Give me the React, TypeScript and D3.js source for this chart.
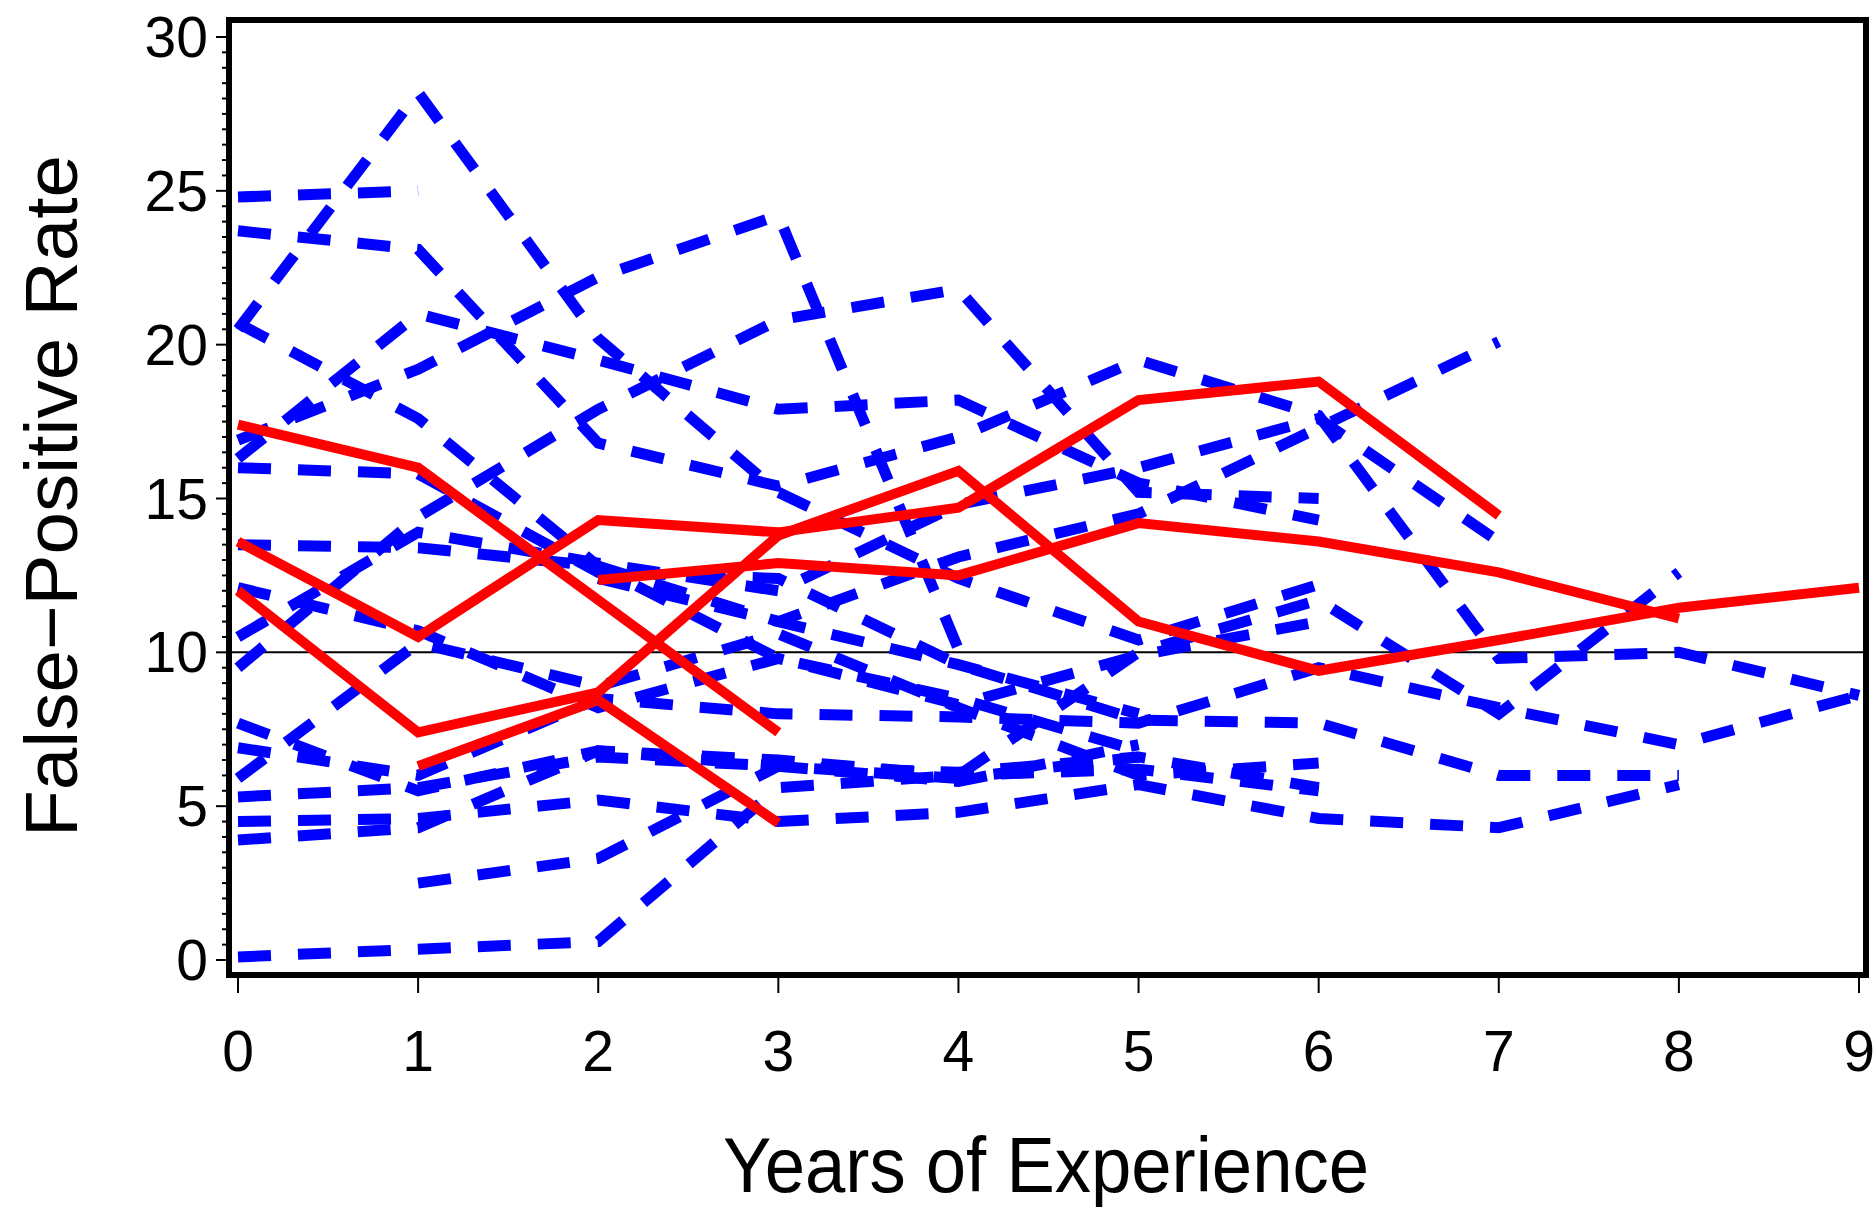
import React from 'react';
import * as d3 from 'd3';

const WIDTH = 1875;
const HEIGHT = 1207;

const years = [0, 1, 2, 3, 4, 5, 6, 7, 8, 9];
const yTickValues = [0, 5, 10, 15, 20, 25, 30];
const referenceRate = 10;

// Each series is one reader's false-positive rate by year of experience.
// The matching *Start array gives the first year each reader was observed.
const blue01 = [24.8, 25.0];
const blue02 = [23.7, 23.1, 16.8, 15.4, 17.0, 19.5, 17.7, 9.8, 10.0, 8.6];
const blue03 = [20.5, 28.2, 20.2, 15.2, 12.4, 10.4, 12.2];
const blue04 = [20.7, 17.6, 12.8, 9.8, 8.5, 6.8];
const blue05 = [16.9, 19.2, 22.2, 24.2, 10.1];
const blue06 = [16.3, 21.0, 19.5, 17.9, 18.2, 15.5, 14.3];
const blue07 = [16.0, 15.8, 12.6, 12.4, 9.6, 7.8, 7.7, 6.0, 6.0];
const blue08 = [13.5, 13.4, 12.8, 11.0, 13.1, 14.5, 17.3, 20.1];
const blue09 = [10.5, 13.9, 12.9, 12.0, 14.8, 16.0, 17.6, 13.6];
const blue10 = [9.5, 14.4, 17.9, 20.8, 21.8, 15.2, 15.0];
const blue11 = [12.1, 10.7, 8.2, 9.8, 8.3, 9.9, 11.0];
const blue12 = [7.7, 5.5, 6.8, 6.3, 6.1, 6.6];
const blue13 = [6.9, 6.0, 8.5, 8.0, 7.9, 7.7, 9.5, 8.2, 7.0, 8.6];
const blue14 = [5.9, 10.3, 8.9, 10.6, 8.2, 6.0, 6.4];
const blue15 = [5.3, 5.6, 6.6, 6.3, 5.8, 7.0];
const blue16 = [4.5, 4.6, 5.2, 4.5, 4.8, 5.7, 4.6, 4.3, 5.7];
const blue17 = [3.9, 4.3, 6.8, 6.5, 6.0, 6.2, 5.5];
const blue18 = [0.1, 0.35, 0.6, 5.6, 6.0, 10.0, 11.7, 8.0, 12.6];
const blue19 = [2.5, 3.3, 6.3, 5.9, 6.6, 5.6];
const blue20 = [12.4, 11.0, 9.6, 8.0];
const blueSeries = [
  blue01, blue02, blue03, blue04, blue05, blue06, blue07, blue08, blue09, blue10,
  blue11, blue12, blue13, blue14, blue15, blue16, blue17, blue18, blue19, blue20,
];
const blueStart = [0, 0, 0, 0, 0, 0, 0, 0, 0, 0, 0, 0, 0, 0, 0, 0, 0, 0, 1, 2];

const red01 = [17.4, 16.0, 11.7, 7.4];
const red02 = [13.6, 10.5, 14.3, 13.9, 14.7, 18.2, 18.8, 14.45];
const red03 = [12.0, 7.4, 8.7, 13.8, 15.9, 11.0, 9.4, 10.4, 11.45, 12.1];
const red04 = [6.3, 8.45, 4.45];
const red05 = [12.35, 12.9, 12.5, 14.2, 13.6, 12.6, 11.1];
const redSeries = [red01, red02, red03, red04, red05];
const redStart = [0, 0, 0, 1, 2];

const FONT = '"Liberation Sans", Arial, Helvetica, sans-serif';

export default function App() {
  const x = d3.scaleLinear().domain([0, 9]).range([238, 1859]);
  const y = d3.scaleLinear().domain([0, 30]).range([960, 37]);

  const frame = { left: 229, right: 1866, top: 20, bottom: 975 };

  const toPoints = (values: number[], start: number): [number, number][] =>
    values.map((v, i) => [start + i, v]);

  const line = d3
    .line<[number, number]>()
    .x((d) => x(d[0]))
    .y((d) => y(d[1]));

  const minorTicks = d3.range(0, 30.01, 0.5).filter((v) => v % 5 !== 0);

  return (
    <svg
      width={WIDTH}
      height={HEIGHT}
      viewBox={`0 0 ${WIDTH} ${HEIGHT}`}
      style={{ position: 'absolute', left: 0, top: 0, display: 'block', background: '#fff' }}
    >
      <rect x={0} y={0} width={WIDTH} height={HEIGHT} fill="#fff" />

      {/* reference line */}
      <line
        x1={frame.left}
        x2={frame.right}
        y1={y(referenceRate)}
        y2={y(referenceRate)}
        stroke="#000"
        strokeWidth={2}
      />

      {/* blue readers, dashed */}
      <g fill="none" stroke="#0000ff" strokeWidth={11} strokeDasharray="33 27" strokeLinejoin="miter">
        {blueSeries.map((s, i) => (
          <path key={`b${i}`} d={line(toPoints(s, blueStart[i])) || ''} />
        ))}
      </g>

      {/* red readers, solid */}
      <g fill="none" stroke="#ff0000" strokeWidth={10} strokeLinejoin="miter" strokeLinecap="butt">
        {redSeries.map((s, i) => (
          <path key={`r${i}`} d={line(toPoints(s, redStart[i])) || ''} />
        ))}
      </g>

      {/* frame */}
      <rect
        x={frame.left}
        y={frame.top}
        width={frame.right - frame.left}
        height={frame.bottom - frame.top}
        fill="none"
        stroke="#000"
        strokeWidth={6}
      />

      {/* y axis ticks */}
      <g stroke="#000" strokeWidth={2}>
        {yTickValues.map((v) => (
          <line key={`yt${v}`} x1={216} x2={frame.left} y1={y(v)} y2={y(v)} />
        ))}
        {minorTicks.map((v) => (
          <line key={`ym${v}`} x1={222} x2={frame.left} y1={y(v)} y2={y(v)} />
        ))}
      </g>
      <g fontFamily={FONT} fontSize={57} fill="#000" textAnchor="end">
        {yTickValues.map((v) => (
          <text key={`yl${v}`} x={208} y={y(v) + 20}>
            {v}
          </text>
        ))}
      </g>

      {/* x axis ticks */}
      <g stroke="#000" strokeWidth={2}>
        {years.map((t) => (
          <line key={`xt${t}`} x1={x(t)} x2={x(t)} y1={frame.bottom} y2={993} />
        ))}
      </g>
      <g fontFamily={FONT} fontSize={57} fill="#000" textAnchor="middle">
        {years.map((t) => (
          <text key={`xl${t}`} x={x(t)} y={1071}>
            {t}
          </text>
        ))}
      </g>

      {/* axis titles */}
      <text
        x={1046}
        y={1192}
        fontFamily={FONT}
        fontSize={77}
        textAnchor="middle"
        textLength={646}
        lengthAdjust="spacingAndGlyphs"
      >
        Years of Experience
      </text>
      <text
        transform="translate(77,496) rotate(-90)"
        fontFamily={FONT}
        fontSize={75}
        textAnchor="middle"
        textLength={682}
        lengthAdjust="spacingAndGlyphs"
      >
        False−Positive Rate
      </text>
    </svg>
  );
}
